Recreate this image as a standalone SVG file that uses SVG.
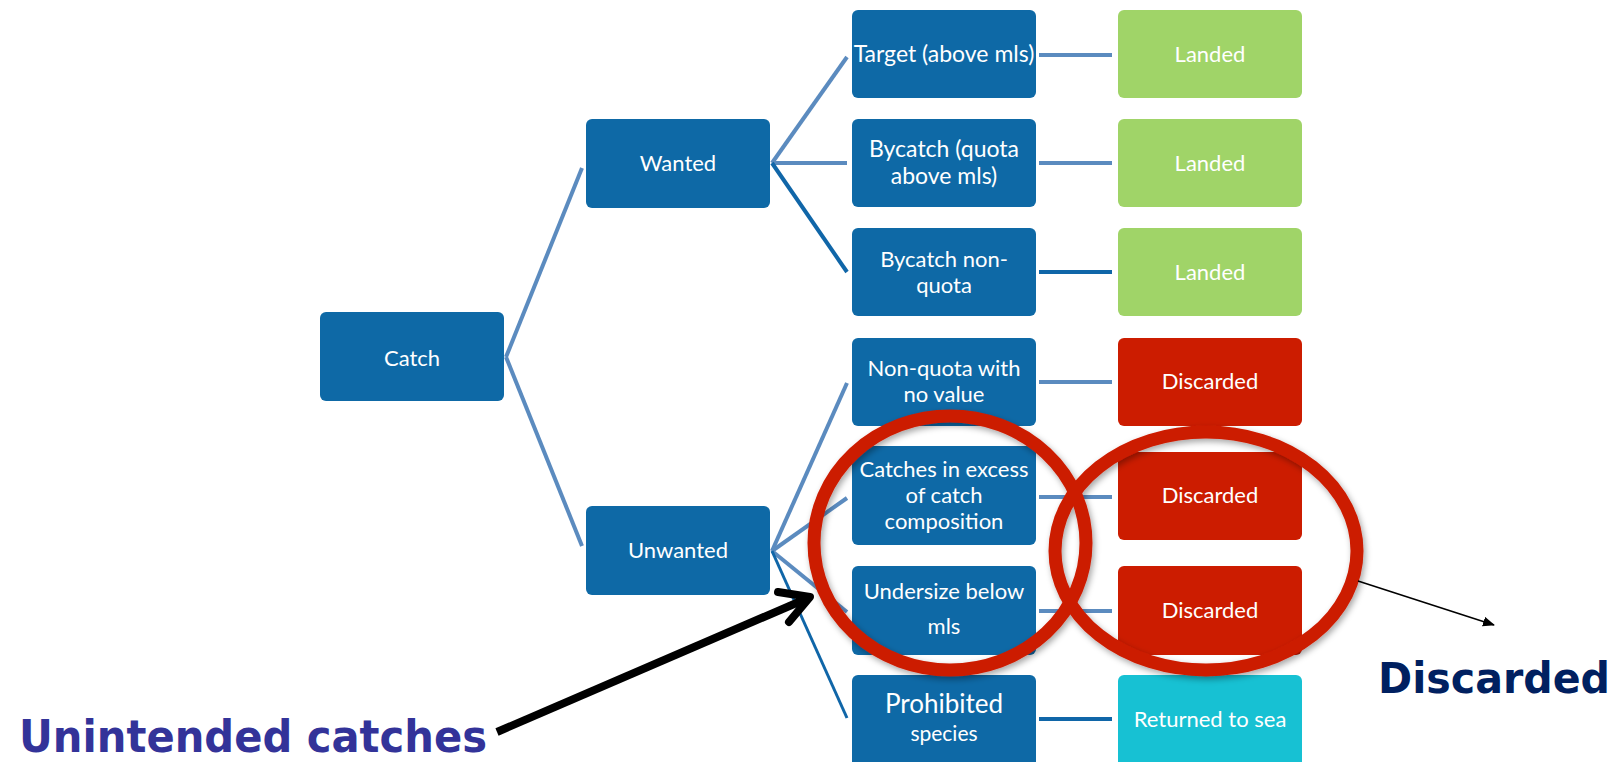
<svg xmlns="http://www.w3.org/2000/svg" width="1619" height="762" viewBox="0 0 1619 762">
<style>
.box{fill:#0e69a6}
.green{fill:#a0d468}
.red{fill:#cc1c00}
.cyan{fill:#17c1d3}
.t{font-family:Lato,"Liberation Sans",sans-serif;font-size:22px;fill:#ffffff;text-anchor:middle}
.c1{stroke:#5b8bbf;stroke-width:4;fill:none}
.c2{stroke:#1066a8;stroke-width:4;fill:none}
.ring{fill:none;stroke:#cc1c00;stroke-width:13}
.big{font-family:"DejaVu Sans",Verdana,sans-serif;font-weight:bold}
</style>
<defs>
<filter id="sh" x="-20%" y="-20%" width="140%" height="140%">
<feDropShadow dx="2" dy="3" stdDeviation="3" flood-color="#000" flood-opacity="0.35"/>
</filter>
<marker id="ah" markerWidth="12" markerHeight="10" refX="11" refY="5" orient="auto" markerUnits="userSpaceOnUse">
<path d="M0,0 L12,5 L0,10 Z" fill="#000"/>
</marker>
</defs>
<g id="connectors">
<line class="c1" x1="506" y1="357" x2="582" y2="168"/>
<line class="c1" x1="506" y1="357" x2="582" y2="546"/>
<line class="c1" x1="772" y1="163" x2="847" y2="57"/>
<line class="c1" x1="772" y1="163" x2="847" y2="163"/>
<line class="c2" x1="772" y1="163" x2="847" y2="272"/>
<line class="c1" x1="772" y1="551" x2="847" y2="383"/>
<line class="c1" x1="772" y1="551" x2="847" y2="498"/>
<line class="c1" x1="772" y1="551" x2="847" y2="612"/>
<line class="c2" x1="772" y1="551" x2="847" y2="718" style="stroke-width:3"/>
<line class="c1" x1="1039" y1="55" x2="1112" y2="55"/>
<line class="c1" x1="1039" y1="163" x2="1112" y2="163"/>
<line class="c2" x1="1039" y1="272" x2="1112" y2="272"/>
<line class="c1" x1="1039" y1="382" x2="1112" y2="382"/>
<line class="c1" x1="1039" y1="497" x2="1112" y2="497"/>
<line class="c1" x1="1039" y1="611" x2="1112" y2="611"/>
<line class="c2" x1="1039" y1="719" x2="1112" y2="719"/>
</g>
<g id="catch"><rect class="box" x="320" y="312" width="184" height="89" rx="6"/><text class="t" x="412" y="366">Catch</text></g>
<g id="wanted"><rect class="box" x="586" y="119" width="184" height="89" rx="6"/><text class="t" x="678" y="171">Wanted</text></g>
<g id="unwanted"><rect class="box" x="586" y="506" width="184" height="89" rx="6"/><text class="t" x="678" y="558">Unwanted</text></g>
<g id="target"><rect class="box" x="852" y="10" width="184" height="88" rx="6"/><text class="t" x="944" y="62" style="font-size:23px">Target (above mls)</text></g>
<g id="bycatch-quota"><rect class="box" x="852" y="119" width="184" height="88" rx="6"/><text class="t" x="944" y="157" style="font-size:23px">Bycatch (quota</text><text class="t" x="944" y="184" style="font-size:23px">above mls)</text></g>
<g id="bycatch-nonquota"><rect class="box" x="852" y="228" width="184" height="88" rx="6"/><text class="t" x="944" y="267">Bycatch  non-</text><text class="t" x="944" y="293">quota</text></g>
<g id="nonquota-novalue"><rect class="box" x="852" y="338" width="184" height="88" rx="6"/><text class="t" x="944" y="376">Non-quota with</text><text class="t" x="944" y="402">no value</text></g>
<g id="catches-excess"><rect class="box" x="852" y="446" width="184" height="99" rx="6"/><text class="t" x="944" y="477">Catches in excess</text><text class="t" x="944" y="503">of catch</text><text class="t" x="944" y="529">composition</text></g>
<g id="undersize"><rect class="box" x="852" y="566" width="184" height="89" rx="6"/><text class="t" x="944" y="599">Undersize below</text><text class="t" x="944" y="634">mls</text></g>
<g id="prohibited"><rect class="box" x="852" y="675" width="184" height="92" rx="6"/><text class="t" x="944" y="713" style="font-size:26px">Prohibited</text><text class="t" x="944" y="741" style="font-size:21px">species</text></g>
<g id="landed1"><rect class="green" x="1118" y="10" width="184" height="88" rx="6"/><text class="t" x="1210" y="62">Landed</text></g>
<g id="landed2"><rect class="green" x="1118" y="119" width="184" height="88" rx="6"/><text class="t" x="1210" y="171">Landed</text></g>
<g id="landed3"><rect class="green" x="1118" y="228" width="184" height="88" rx="6"/><text class="t" x="1210" y="280">Landed</text></g>
<g id="discarded1"><rect class="red" x="1118" y="338" width="184" height="88" rx="6"/><text class="t" x="1210" y="389">Discarded</text></g>
<g id="discarded2"><rect class="red" x="1118" y="452" width="184" height="88" rx="6"/><text class="t" x="1210" y="503">Discarded</text></g>
<g id="discarded3"><rect class="red" x="1118" y="566" width="184" height="89" rx="6"/><text class="t" x="1210" y="618">Discarded</text></g>
<g id="returned"><rect class="cyan" x="1118" y="675" width="184" height="92" rx="6"/><text class="t" x="1210" y="727">Returned to sea</text></g>
<g id="highlights" filter="url(#sh)">
<ellipse class="ring" cx="950" cy="543" rx="136" ry="127"/>
<ellipse class="ring" cx="1206" cy="551" rx="151" ry="119"/>
</g>
<g id="annotations">
<line x1="497" y1="732" x2="808" y2="598" stroke="#000" stroke-width="8"/>
<polyline points="778,592 810,597 789,622" fill="none" stroke="#000" stroke-width="8" stroke-linecap="round" stroke-linejoin="round"/>
<line x1="1358" y1="581" x2="1494" y2="625" stroke="#000" stroke-width="1.6" marker-end="url(#ah)"/>
<text class="big" x="19" y="752" font-size="44" fill="#333399" textLength="468" lengthAdjust="spacingAndGlyphs">Unintended catches</text>
<text class="big" x="1378" y="693" font-size="42" fill="#002060" textLength="232" lengthAdjust="spacingAndGlyphs">Discarded</text>
</g>
</svg>
